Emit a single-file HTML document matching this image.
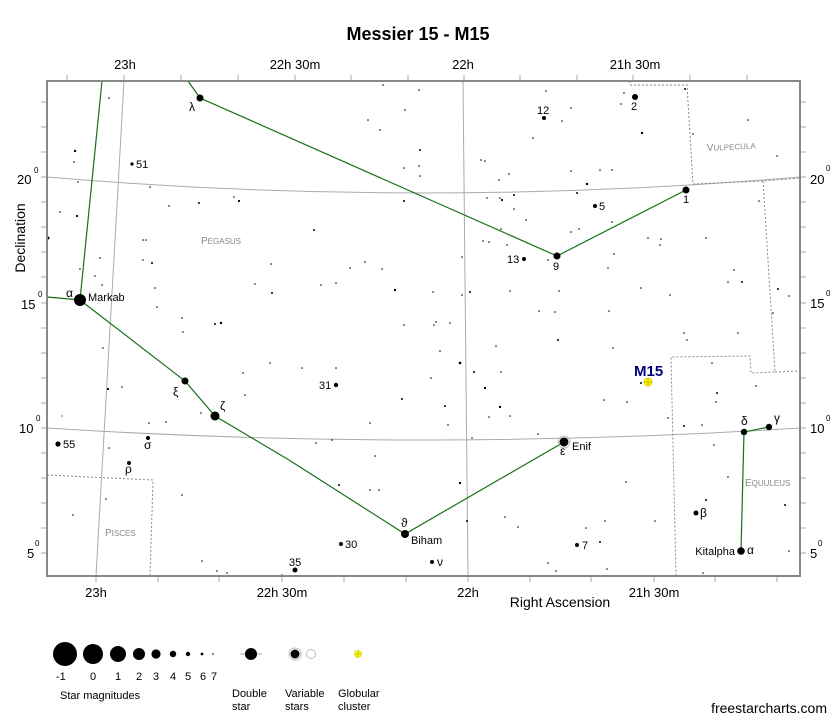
<!DOCTYPE html>
<html><head><meta charset="utf-8"><style>
html,body{margin:0;padding:0;background:#fff;}
svg{display:block;font-family:"Liberation Sans",Arial,sans-serif;}
</style></head><body>
<svg width="837" height="724" viewBox="0 0 837 724" xmlns="http://www.w3.org/2000/svg">
<rect width="837" height="724" fill="#fff"/>
<text x="418" y="40" font-size="18" font-weight="bold" text-anchor="middle">Messier 15 - M15</text>

<g fill="none" stroke="#aaa" stroke-width="1">
<path d="M47,177 Q423,209 800,177"/>
<path d="M47,428 Q423,452 800,428"/>
<line x1="124" y1="81" x2="96" y2="576"/>
<line x1="463" y1="81" x2="468" y2="576"/>
</g>
<g fill="none" stroke="#888" stroke-width="1" stroke-dasharray="2,2">
<polyline points="630,81 630,85 687,85 693,184 763,181 800,178"/>
<polyline points="763,181 775,372 751,373 750,356 671,357 676,576"/>
<polyline points="775,372 800,371"/>
<polyline points="47,475 153,480 150,576"/>
</g>
<g stroke="#aaa" stroke-width="1">
<line x1="67" y1="75" x2="67" y2="81"/><line x1="124" y1="75" x2="124" y2="81"/><line x1="181" y1="75" x2="181" y2="81"/><line x1="238" y1="75" x2="238" y2="81"/><line x1="295" y1="75" x2="295" y2="81"/><line x1="351" y1="75" x2="351" y2="81"/><line x1="408" y1="75" x2="408" y2="81"/><line x1="464" y1="75" x2="464" y2="81"/><line x1="520" y1="75" x2="520" y2="81"/><line x1="577" y1="75" x2="577" y2="81"/><line x1="633" y1="75" x2="633" y2="81"/><line x1="690" y1="75" x2="690" y2="81"/><line x1="747" y1="75" x2="747" y2="81"/>
<line x1="96" y1="576" x2="96" y2="582"/><line x1="158" y1="576" x2="158" y2="582"/><line x1="219" y1="576" x2="219" y2="582"/><line x1="282" y1="576" x2="282" y2="582"/><line x1="344" y1="576" x2="344" y2="582"/><line x1="406" y1="576" x2="406" y2="582"/><line x1="468" y1="576" x2="468" y2="582"/><line x1="530" y1="576" x2="530" y2="582"/><line x1="591" y1="576" x2="591" y2="582"/><line x1="654" y1="576" x2="654" y2="582"/><line x1="715" y1="576" x2="715" y2="582"/><line x1="777" y1="576" x2="777" y2="582"/>
<line x1="41" y1="102" x2="47" y2="102"/><line x1="41" y1="127" x2="47" y2="127"/><line x1="41" y1="152" x2="47" y2="152"/><line x1="41" y1="177" x2="47" y2="177"/><line x1="41" y1="202" x2="47" y2="202"/><line x1="41" y1="227" x2="47" y2="227"/><line x1="41" y1="252" x2="47" y2="252"/><line x1="41" y1="277" x2="47" y2="277"/><line x1="41" y1="303" x2="47" y2="303"/><line x1="41" y1="328" x2="47" y2="328"/><line x1="41" y1="353" x2="47" y2="353"/><line x1="41" y1="378" x2="47" y2="378"/><line x1="41" y1="403" x2="47" y2="403"/><line x1="41" y1="428" x2="47" y2="428"/><line x1="41" y1="453" x2="47" y2="453"/><line x1="41" y1="478" x2="47" y2="478"/><line x1="41" y1="503" x2="47" y2="503"/><line x1="41" y1="528" x2="47" y2="528"/><line x1="41" y1="553" x2="47" y2="553"/>
<line x1="800" y1="102" x2="806" y2="102"/><line x1="800" y1="127" x2="806" y2="127"/><line x1="800" y1="152" x2="806" y2="152"/><line x1="800" y1="177" x2="806" y2="177"/><line x1="800" y1="202" x2="806" y2="202"/><line x1="800" y1="227" x2="806" y2="227"/><line x1="800" y1="252" x2="806" y2="252"/><line x1="800" y1="277" x2="806" y2="277"/><line x1="800" y1="303" x2="806" y2="303"/><line x1="800" y1="328" x2="806" y2="328"/><line x1="800" y1="353" x2="806" y2="353"/><line x1="800" y1="378" x2="806" y2="378"/><line x1="800" y1="403" x2="806" y2="403"/><line x1="800" y1="428" x2="806" y2="428"/><line x1="800" y1="453" x2="806" y2="453"/><line x1="800" y1="478" x2="806" y2="478"/><line x1="800" y1="503" x2="806" y2="503"/><line x1="800" y1="528" x2="806" y2="528"/><line x1="800" y1="553" x2="806" y2="553"/>
</g>
<g fill="none" stroke="#1a6e1a" stroke-width="1.2">
<polyline points="102,81 80,300"/>
<polyline points="47,297 80,300 185,381 215,416 289,460 405,534 564,442"/>
<polyline points="188,81 200,98 557,256 686,190"/>
<polyline points="741,551 744,432 769,427"/>
</g>
<g fill="#000">
<circle cx="75" cy="151" r="1.2"/><circle cx="74" cy="162" r="0.8"/><circle cx="78" cy="182" r="0.8"/><circle cx="60" cy="212" r="0.8"/><circle cx="77" cy="216" r="1.1"/><circle cx="48" cy="238" r="1.5"/><circle cx="80" cy="269" r="0.8"/><circle cx="95" cy="276" r="0.8"/><circle cx="100" cy="258" r="0.8"/><circle cx="109" cy="98" r="0.8"/><circle cx="150" cy="187" r="0.8"/><circle cx="169" cy="206" r="0.8"/><circle cx="199" cy="203" r="1"/><circle cx="234" cy="197" r="0.8"/><circle cx="239" cy="201" r="1.1"/><circle cx="143" cy="240" r="0.8"/><circle cx="146" cy="240" r="0.8"/><circle cx="152" cy="263" r="1"/><circle cx="143" cy="260" r="0.8"/><circle cx="155" cy="288" r="0.8"/><circle cx="157" cy="307" r="0.8"/><circle cx="215" cy="324" r="1"/><circle cx="221" cy="323" r="1.2"/><circle cx="182" cy="318" r="0.8"/><circle cx="183" cy="332" r="0.8"/><circle cx="272" cy="293" r="1"/><circle cx="314" cy="230" r="1"/><circle cx="271" cy="264" r="0.8"/><circle cx="255" cy="284" r="0.8"/><circle cx="321" cy="285" r="0.8"/><circle cx="336" cy="283" r="0.8"/><circle cx="350" cy="268" r="0.8"/><circle cx="365" cy="262" r="0.8"/><circle cx="382" cy="269" r="0.8"/><circle cx="395" cy="290" r="1.2"/><circle cx="404" cy="325" r="0.8"/><circle cx="433" cy="292" r="0.8"/><circle cx="383" cy="85" r="0.8"/><circle cx="368" cy="120" r="0.8"/><circle cx="380" cy="130" r="0.8"/><circle cx="405" cy="110" r="0.8"/><circle cx="419" cy="90" r="0.8"/><circle cx="420" cy="150" r="1"/><circle cx="404" cy="168" r="0.8"/><circle cx="404" cy="201" r="1"/><circle cx="419" cy="166" r="0.8"/><circle cx="485" cy="161" r="0.8"/><circle cx="509" cy="174" r="0.8"/><circle cx="500" cy="198" r="0.8"/><circle cx="502" cy="200" r="1.1"/><circle cx="514" cy="195" r="1"/><circle cx="514" cy="209" r="0.8"/><circle cx="489" cy="242" r="0.8"/><circle cx="507" cy="245" r="0.8"/><circle cx="470" cy="292" r="1"/><circle cx="462" cy="295" r="0.8"/><circle cx="436" cy="322" r="0.8"/><circle cx="510" cy="291" r="0.8"/><circle cx="460" cy="363" r="1.3"/><circle cx="485" cy="388" r="1.2"/><circle cx="501" cy="372" r="0.8"/><circle cx="555" cy="312" r="0.8"/><circle cx="559" cy="291" r="0.8"/><circle cx="539" cy="311" r="0.8"/><circle cx="546" cy="91" r="0.8"/><circle cx="562" cy="121" r="0.8"/><circle cx="571" cy="108" r="0.8"/><circle cx="571" cy="171" r="0.8"/><circle cx="587" cy="184" r="1.2"/><circle cx="612" cy="170" r="0.8"/><circle cx="624" cy="93" r="0.8"/><circle cx="621" cy="104" r="0.8"/><circle cx="642" cy="133" r="1.2"/><circle cx="685" cy="89" r="1"/><circle cx="693" cy="134" r="0.8"/><circle cx="748" cy="120" r="0.8"/><circle cx="777" cy="156" r="0.8"/><circle cx="759" cy="201" r="0.8"/><circle cx="778" cy="289" r="1"/><circle cx="789" cy="296" r="0.8"/><circle cx="773" cy="313" r="0.8"/><circle cx="661" cy="239" r="0.8"/><circle cx="648" cy="238" r="0.8"/><circle cx="706" cy="238" r="0.8"/><circle cx="641" cy="288" r="0.8"/><circle cx="670" cy="295" r="0.8"/><circle cx="728" cy="282" r="0.8"/><circle cx="734" cy="270" r="0.8"/><circle cx="742" cy="282" r="1"/><circle cx="684" cy="333" r="0.8"/><circle cx="609" cy="311" r="0.8"/><circle cx="613" cy="348" r="0.8"/><circle cx="558" cy="340" r="1"/><circle cx="577" cy="193" r="1"/><circle cx="600" cy="170" r="0.8"/><circle cx="612" cy="222" r="0.8"/><circle cx="660" cy="245" r="0.8"/><circle cx="614" cy="254" r="0.8"/><circle cx="608" cy="268" r="0.8"/><circle cx="450" cy="323" r="0.8"/><circle cx="440" cy="351" r="0.8"/><circle cx="627" cy="402" r="0.8"/><circle cx="641" cy="383" r="1"/><circle cx="668" cy="418" r="0.8"/><circle cx="716" cy="402" r="0.8"/><circle cx="717" cy="393" r="1"/><circle cx="712" cy="363" r="0.8"/><circle cx="756" cy="386" r="0.8"/><circle cx="684" cy="426" r="1"/><circle cx="702" cy="425" r="0.8"/><circle cx="714" cy="445" r="0.8"/><circle cx="728" cy="477" r="0.8"/><circle cx="706" cy="500" r="1"/><circle cx="785" cy="505" r="1"/><circle cx="789" cy="551" r="0.8"/><circle cx="703" cy="573" r="0.8"/><circle cx="626" cy="482" r="0.8"/><circle cx="655" cy="521" r="0.8"/><circle cx="605" cy="521" r="0.8"/><circle cx="600" cy="542" r="1"/><circle cx="607" cy="569" r="0.8"/><circle cx="586" cy="528" r="0.8"/><circle cx="460" cy="483" r="1.2"/><circle cx="467" cy="521" r="1"/><circle cx="505" cy="517" r="0.8"/><circle cx="448" cy="425" r="0.8"/><circle cx="472" cy="438" r="0.8"/><circle cx="474" cy="372" r="1"/><circle cx="500" cy="407" r="1.2"/><circle cx="489" cy="417" r="0.8"/><circle cx="510" cy="416" r="0.8"/><circle cx="538" cy="434" r="0.8"/><circle cx="402" cy="399" r="1"/><circle cx="431" cy="378" r="0.8"/><circle cx="445" cy="406" r="1"/><circle cx="370" cy="490" r="0.8"/><circle cx="339" cy="485" r="1"/><circle cx="379" cy="490" r="0.8"/><circle cx="375" cy="456" r="0.8"/><circle cx="316" cy="443" r="0.8"/><circle cx="336" cy="368" r="0.8"/><circle cx="302" cy="368" r="0.8"/><circle cx="270" cy="363" r="0.8"/><circle cx="245" cy="395" r="0.8"/><circle cx="243" cy="373" r="0.8"/><circle cx="201" cy="413" r="0.8"/><circle cx="166" cy="422" r="0.8"/><circle cx="149" cy="423" r="0.8"/><circle cx="108" cy="389" r="1.1"/><circle cx="122" cy="387" r="0.8"/><circle cx="102" cy="285" r="0.8"/><circle cx="103" cy="348" r="0.8"/><circle cx="109" cy="448" r="0.8"/><circle cx="62" cy="416" r="0.6"/><circle cx="73" cy="515" r="0.8"/><circle cx="106" cy="499" r="0.8"/><circle cx="182" cy="495" r="0.8"/><circle cx="202" cy="561" r="0.8"/><circle cx="217" cy="571" r="0.8"/><circle cx="227" cy="573" r="0.8"/><circle cx="282" cy="575" r="0.8"/><circle cx="370" cy="423" r="0.8"/><circle cx="332" cy="440" r="0.8"/><circle cx="548" cy="563" r="0.8"/><circle cx="518" cy="527" r="0.8"/><circle cx="556" cy="571" r="0.8"/><circle cx="604" cy="400" r="0.8"/><circle cx="687" cy="340" r="0.8"/><circle cx="738" cy="333" r="0.8"/><circle cx="420" cy="176" r="0.8"/><circle cx="533" cy="138" r="0.8"/><circle cx="571" cy="232" r="0.8"/><circle cx="579" cy="229" r="0.8"/><circle cx="548" cy="260" r="0.8"/><circle cx="462" cy="257" r="0.8"/><circle cx="434" cy="325" r="0.8"/><circle cx="496" cy="346" r="0.8"/><circle cx="499" cy="180" r="0.8"/><circle cx="487" cy="198" r="0.8"/><circle cx="481" cy="160" r="0.8"/><circle cx="526" cy="220" r="0.8"/><circle cx="483" cy="241" r="0.8"/><circle cx="501" cy="229" r="0.8"/>
</g>
<g fill="#000">
<circle cx="80" cy="300" r="6"/><circle cx="200" cy="98" r="3.5"/><circle cx="132" cy="164" r="1.6"/><circle cx="544" cy="118" r="2"/><circle cx="635" cy="97" r="3"/><circle cx="686" cy="190" r="3.5"/><circle cx="595" cy="206" r="2"/><circle cx="524" cy="259" r="2"/><circle cx="557" cy="256" r="3.5"/><circle cx="185" cy="381" r="3.5"/><circle cx="215" cy="416" r="4.5"/><circle cx="336" cy="385" r="2.2"/><circle cx="58" cy="444" r="2.6"/><circle cx="148" cy="438" r="2"/><circle cx="129" cy="463" r="2"/><circle cx="341" cy="544" r="2"/><circle cx="295" cy="570" r="2.5"/><circle cx="405" cy="534" r="4"/><circle cx="432" cy="562" r="2"/><circle cx="577" cy="545" r="2"/><circle cx="696" cy="513" r="2.5"/><circle cx="741" cy="551" r="3.8"/><circle cx="744" cy="432" r="3.2"/><circle cx="769" cy="427" r="3.2"/>
<circle cx="564" cy="442" r="6" fill="none" stroke="#bbb" stroke-width="1"/><circle cx="564" cy="442" r="4.5"/>
</g>
<circle cx="648" cy="382" r="4" fill="#ffff00" stroke="#d4c400" stroke-width="0.8"/>
<path d="M644,382H652M648,378V386" stroke="#b0a000" stroke-width="0.7"/>

<rect x="47" y="81" width="753" height="495" fill="none" stroke="#888" stroke-width="2"/>

<g font-size="12" fill="#000">
<text x="189" y="111">λ</text><text x="66" y="297">α</text><text x="88" y="301" font-size="11">Markab</text>
<text x="136" y="168" font-size="11">51</text><text x="537" y="114" font-size="11">12</text><text x="631" y="110" font-size="11">2</text>
<text x="683" y="203" font-size="11">1</text><text x="599" y="210" font-size="11">5</text><text x="507" y="263" font-size="11">13</text><text x="553" y="270" font-size="11">9</text>
<text x="173" y="396">ξ</text><text x="220" y="410">ζ</text><text x="319" y="389" font-size="11">31</text><text x="63" y="448" font-size="11">55</text>
<text x="144" y="449">σ</text><text x="125" y="473">ρ</text><text x="345" y="548" font-size="11">30</text><text x="289" y="566" font-size="11">35</text>
<text x="401" y="527">ϑ</text><text x="411" y="544" font-size="11">Biham</text><text x="437" y="566">ν</text>
<text x="560" y="455">ε</text><text x="572" y="450" font-size="11">Enif</text><text x="582" y="549" font-size="11">7</text><text x="700" y="517">β</text>
<text x="735" y="555" font-size="11" text-anchor="end">Kitalpha</text><text x="747" y="554">α</text><text x="741" y="425">δ</text><text x="774" y="422">γ</text>
</g>
<text x="634" y="376" font-size="15" font-weight="bold" fill="#000080">M15</text>
<g fill="#888" font-size="10">
<text x="201" y="244">P<tspan font-size="8">EGASUS</tspan></text>
<text x="707" y="151" transform="rotate(-3 707 151)">V<tspan font-size="8">ULPECULA</tspan></text>
<text x="745" y="486">E<tspan font-size="8">QUULEUS</tspan></text>
<text x="105" y="536">P<tspan font-size="8">ISCES</tspan></text>
</g>

<g font-size="13" fill="#000" text-anchor="middle">
<text x="125" y="69">23h</text><text x="295" y="69">22h 30m</text><text x="463" y="69">22h</text><text x="635" y="69">21h 30m</text>
<text x="96" y="597">23h</text><text x="282" y="597">22h 30m</text><text x="468" y="597">22h</text><text x="654" y="597">21h 30m</text>
<text x="560" y="607" font-size="14">Right Ascension</text>
<text x="0" y="0" font-size="14" transform="translate(25 238) rotate(-90)">Declination</text>
</g>
<g font-size="13" fill="#000">
<text x="17" y="184">20</text><text x="34" y="173" font-size="8">0</text>
<text x="21" y="309">15</text><text x="38" y="297" font-size="8">0</text>
<text x="19" y="433">10</text><text x="36" y="421" font-size="8">0</text>
<text x="27" y="558">5</text><text x="35" y="546" font-size="8">0</text>
<text x="810" y="184">20</text><text x="826" y="171" font-size="8">0</text>
<text x="810" y="308">15</text><text x="826" y="296" font-size="8">0</text>
<text x="810" y="433">10</text><text x="826" y="421" font-size="8">0</text>
<text x="810" y="558">5</text><text x="818" y="546" font-size="8">0</text>
</g>

<g fill="#000">
<circle cx="65" cy="654" r="12"/><circle cx="93" cy="654" r="10"/><circle cx="118" cy="654" r="8"/><circle cx="139" cy="654" r="6"/><circle cx="156" cy="654" r="4.6"/><circle cx="173" cy="654" r="3.2"/><circle cx="188" cy="654" r="2.2"/><circle cx="202" cy="654" r="1.4"/><circle cx="213" cy="654" r="0.8"/>
<line x1="240" y1="654" x2="262" y2="654" stroke="#888" stroke-width="0.8"/><circle cx="251" cy="654" r="6"/>
<circle cx="295" cy="654" r="6" fill="none" stroke="#bbb"/><circle cx="295" cy="654" r="4.5"/>
<circle cx="311" cy="654" r="4.5" fill="#fff" stroke="#bbb"/>
</g>
<circle cx="358" cy="654" r="3.5" fill="#ffff00" stroke="#d4c400" stroke-width="0.6"/>
<path d="M355,654H361M358,651V657" stroke="#b0a000" stroke-width="0.6"/>
<g font-size="11" fill="#000">
<text x="56" y="680">-1</text><text x="90" y="680">0</text><text x="115" y="680">1</text><text x="136" y="680">2</text><text x="153" y="680">3</text><text x="170" y="680">4</text><text x="185" y="680">5</text><text x="200" y="680">6</text><text x="211" y="680">7</text>
<text x="60" y="699">Star magnitudes</text>
<text x="232" y="697">Double</text><text x="232" y="710">star</text>
<text x="285" y="697">Variable</text><text x="285" y="710">stars</text>
<text x="338" y="697">Globular</text><text x="338" y="710">cluster</text>
</g>
<text x="827" y="713" font-size="14" text-anchor="end">freestarcharts.com</text>
</svg>
</body></html>
